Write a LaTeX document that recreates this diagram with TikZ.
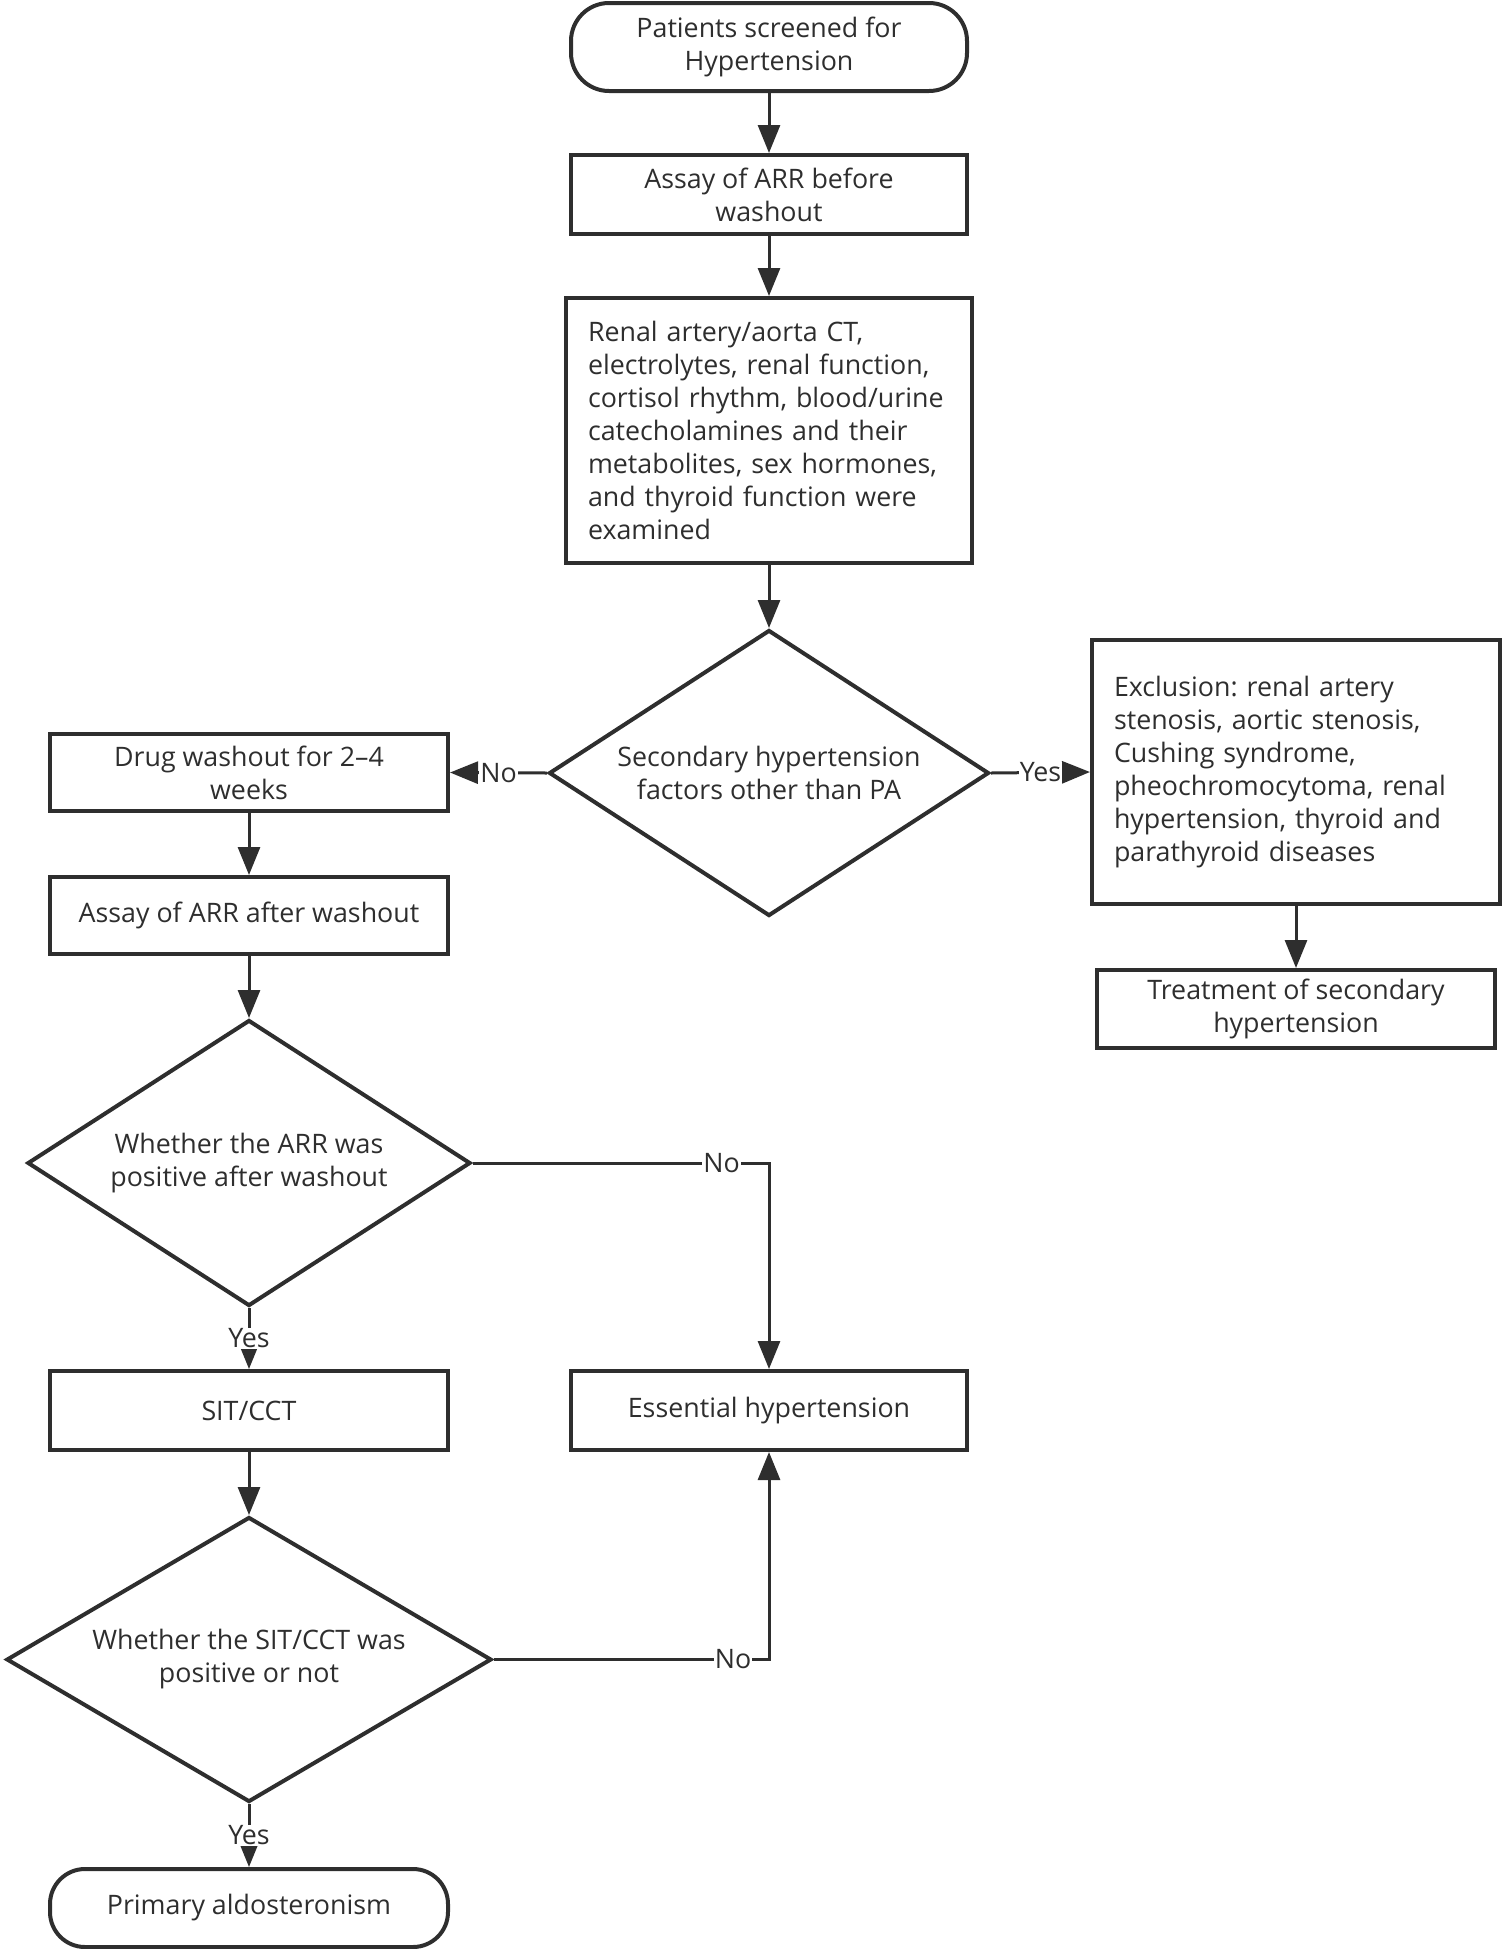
\documentclass[tikz,border=0pt]{standalone}
\usepackage{fontspec}
\setmainfont{Open Sans}
\usetikzlibrary{arrows.meta,shapes.geometric}
\definecolor{ink}{HTML}{2E2E2E}
\frenchspacing
\begin{document}
\begin{tikzpicture}[x=1pt,y=-1pt,
  txtfont/.style={font=\fontsize{26.8}{33}\selectfont, text=ink},
  box/.style={draw=ink, line width=4pt, minimum width=398pt, minimum height=78pt,
    inner sep=0pt, align=center, txtfont},
  leftbox/.style={draw=ink, line width=4pt, inner xsep=22pt, inner ysep=0pt,
    align=left, txtfont},
  term/.style={box, rounded corners=38pt},
  dia/.style={draw=ink, line width=4pt, diamond, inner sep=0pt},
  diatext/.style={align=center, txtfont, inner sep=0pt},
  arr/.style={draw=ink, line width=3pt, -{Triangle[length=28pt,width=22pt]}},
  lbl/.style={fill=white, txtfont, inner sep=1pt}]
\useasboundingbox (0,0) rectangle (1502,1949);

\node[term, minimum width=396pt, minimum height=88pt] (t1) at (769,47) {Patients screened for\\Hypertension};
\node[box, minimum width=396pt, minimum height=79pt] (b2) at (769,194.5) {Assay of ARR before\\washout};
\node[leftbox, text width=362pt, minimum height=265pt] (b3) at (769,430.5) {Renal artery/aorta CT,\\electrolytes, renal function,\\cortisol rhythm, blood/urine\\catecholamines and their\\metabolites, sex hormones,\\and thyroid function were\\examined};
\node[dia, minimum width=440pt, minimum height=286pt] (d1) at (769,773) {};
\node[diatext] (d1t) at (d1.center) {Secondary hypertension\\factors other than PA};
\node[box, minimum height=77pt] (b5) at (249,772.5) {Drug washout for 2–4\\weeks};
\node[leftbox, text width=364pt, minimum height=264pt] (b6) at (1296,772) {Exclusion: renal artery\\stenosis, aortic stenosis,\\Cushing syndrome,\\pheochromocytoma, renal\\hypertension, thyroid and\\parathyroid diseases};
\node[box] (b7) at (1296,1009) {Treatment of secondary\\hypertension};
\node[box, minimum height=77pt] (b8) at (249,915.5) {Assay of ARR after washout};
\node[dia, minimum width=443pt, minimum height=286pt] (d2) at (249,1163) {};
\node[diatext] (d2t) at (d2.center) {Whether the ARR was\\positive after washout};
\node[box, minimum height=79pt] (b10) at (249,1410.5) {SIT/CCT};
\node[box, minimum width=396pt, minimum height=79pt] (b11) at (769,1410.5) {Essential hypertension};
\node[dia, minimum width=485pt, minimum height=285pt] (d3) at (249,1659.5) {};
\node[diatext] (d3t) at (d3.center) {Whether the SIT/CCT was\\positive or not};
\node[term, rounded corners=35pt] (t13) at (249,1908) {Primary aldosteronism};

\draw[arr] (t1.south) -- (b2.north);
\draw[arr] (b2.south) -- (b3.north);
\draw[arr] (b3.south) -- (d1.north);
\draw[arr] (d1.west) -- node[lbl] (l1) {No} (b5.east);
\draw[arr] (d1.east) -- node[lbl] (l2) {Yes} (b6.west);
\draw[arr] (b6.south) -- (b7.north);
\draw[arr] (b5.south) -- (b8.north);
\draw[arr] (b8.south) -- (d2.north);
\draw[arr] (d2.south) -- node[lbl] (l3) {Yes} (b10.north);
\draw[arr] (d2.east) -| node[lbl, pos=0.42] (l4) {No} (b11.north);
\draw[arr] (b10.south) -- (d3.north);
\draw[arr] (d3.south) -- node[lbl] (l5) {Yes} (t13.north);
\draw[arr] (d3.east) -| node[lbl, pos=0.435] (l6) {No} (b11.south);
\end{tikzpicture}
\end{document}
